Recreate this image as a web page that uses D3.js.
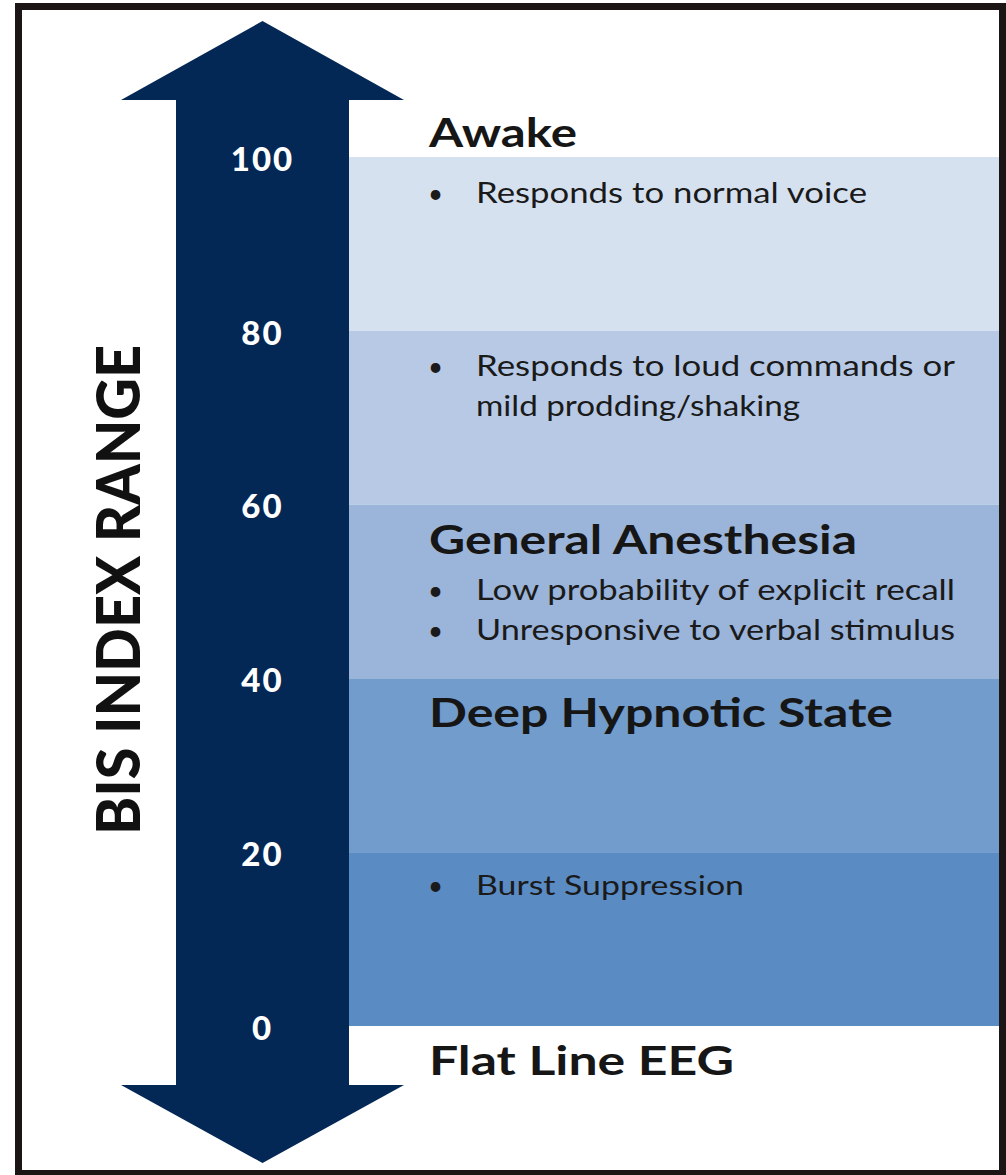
<!DOCTYPE html>
<html>
<head>
<meta charset="utf-8">
<script src="https://cdn.jsdelivr.net/npm/d3@7"></script>
<style>
    html, body { margin: 0; padding: 0; background: #fff; }
    svg { display: block; }
    text { font-family: "Lato", "Open Sans", sans-serif; }
</style>
</head>
<body>
<svg width="1006" height="1175"></svg>
<script>
// BIS index scale
var ticks = [0, 20, 40, 60, 80, 100];

// bands: from / to value and fill
var bandFrom = [100, 80, 60, 40, 20];
var bandTo = [80, 60, 40, 20, 0];
var bandColors = ["#d6e1f0", "#b7c9e4", "#9bb4d9", "#729ccc", "#5b8bc3"];

// state headings and the BIS value they sit at
var stateNames = ["Awake", "General Anesthesia", "Deep Hypnotic State", "Flat Line EEG"];
var stateBIS = [100, 60, 40, 0];
var stateWidths = [148, 428, 464, 305];

// bullet notes
var notes = [
    ["Responds to normal voice"],
    ["Responds to loud commands or", "mild prodding/shaking"],
    ["Low probability of explicit recall"],
    ["Unresponsive to verbal stimulus"],
    ["Burst Suppression"]
];
var noteBIS = [100, 80, 60, 60, 20];
var noteWidths = [[391], [479, 324], [479], [479], [268]];

var axisTitle = "BIS INDEX RANGE";

(function () {

    var svg = d3.select("svg");

    var y = d3.scaleLinear().domain([0, 100]).range([1026, 157]);

    var shaftL = 176, shaftR = 349, cx = (shaftL + shaftR) / 2,
        headL = 121, headR = 404,
        bandL = shaftR, bandR = 999;

    // bands
    svg.append("g")
        .attr("class", "bands")
        .selectAll("rect")
        .data(bandFrom)
        .enter().append("rect")
        .attr("x", bandL)
        .attr("width", bandR - bandL)
        .attr("y", function (d) { return y(d); })
        .attr("height", function (d, i) { return y(bandTo[i]) - y(d); })
        .attr("fill", function (d, i) { return bandColors[i]; });

    // double headed arrow
    var top = y(100) - 57, bot = y(0) + 59;
    var arrow = d3.path();
    arrow.moveTo(cx, top - 79);
    arrow.lineTo(headR, top);
    arrow.lineTo(shaftR, top);
    arrow.lineTo(shaftR, bot);
    arrow.lineTo(headR, bot);
    arrow.lineTo(cx, bot + 78);
    arrow.lineTo(headL, bot);
    arrow.lineTo(shaftL, bot);
    arrow.lineTo(shaftL, top);
    arrow.lineTo(headL, top);
    arrow.closePath();
    svg.append("path")
        .attr("d", arrow.toString())
        .attr("fill", "#042856");

    // tick labels on the arrow
    var axis = svg.append("g")
        .attr("transform", "translate(" + cx + ",0)")
        .call(d3.axisRight(y).tickValues(ticks).tickSize(0).tickPadding(0));
    axis.select(".domain").remove();
    axis.selectAll("text")
        .attr("x", 0)
        .attr("dy", "0.4em")
        .attr("text-anchor", "middle")
        .attr("fill", "#fff")
        .style("font-size", "33px")
        .style("font-weight", "900")
        .style("letter-spacing", "2px");

    // vertical title
    svg.append("text")
        .attr("transform", "translate(140,590) rotate(-90)")
        .attr("text-anchor", "middle")
        .attr("textLength", 490)
        .attr("lengthAdjust", "spacingAndGlyphs")
        .attr("fill", "#111")
        .style("font-size", "60px")
        .style("font-weight", "900")
        .text(axisTitle);

    var textX = 429, noteX = 476, bulletX = 428;

    // headings
    svg.append("g")
        .selectAll("text")
        .data(stateNames)
        .enter().append("text")
        .attr("x", textX)
        .attr("y", function (d, i) { return y(stateBIS[i]) + (i === 0 ? -10 : 49); })
        .attr("textLength", function (d, i) { return stateWidths[i]; })
        .attr("lengthAdjust", "spacingAndGlyphs")
        .attr("fill", "#161616")
        .style("font-size", "41px")
        .style("font-weight", "700")
        .text(function (d) { return d; });

    // notes with bullets
    var rowOffset = [46, 45, 95, 135, 43];
    var note = svg.append("g")
        .selectAll("g")
        .data(notes)
        .enter().append("g")
        .attr("transform", function (d, i) {
            return "translate(0," + (y(noteBIS[i]) + rowOffset[i]) + ")";
        });

    note.append("text")
        .attr("x", bulletX)
        .attr("y", 0)
        .attr("fill", "#1a1a1a")
        .style("font-size", "26px")
        .text("\u2022");

    note.selectAll("text.line")
        .data(function (d, i) {
            return d.map(function (s, j) { return {s: s, w: noteWidths[i][j], j: j, i: i}; });
        })
        .enter().append("text")
        .attr("class", "line")
        .attr("x", noteX)
        .attr("y", function (d) { return d.j * 40; })
        .attr("textLength", function (d) { return d.w; })
        .attr("lengthAdjust", "spacingAndGlyphs")
        .attr("fill", "#1a1a1a")
        .style("font-size", function (d) { return d.i === 4 ? "26px" : "29px"; })
        .text(function (d) { return d.s; });

    // frame
    svg.append("rect")
        .attr("x", 18.5)
        .attr("y", 6.5)
        .attr("width", 984)
        .attr("height", 1167)
        .attr("fill", "none")
        .attr("stroke", "#1b1516")
        .attr("stroke-width", 7);
})();
</script>
</body>
</html>
